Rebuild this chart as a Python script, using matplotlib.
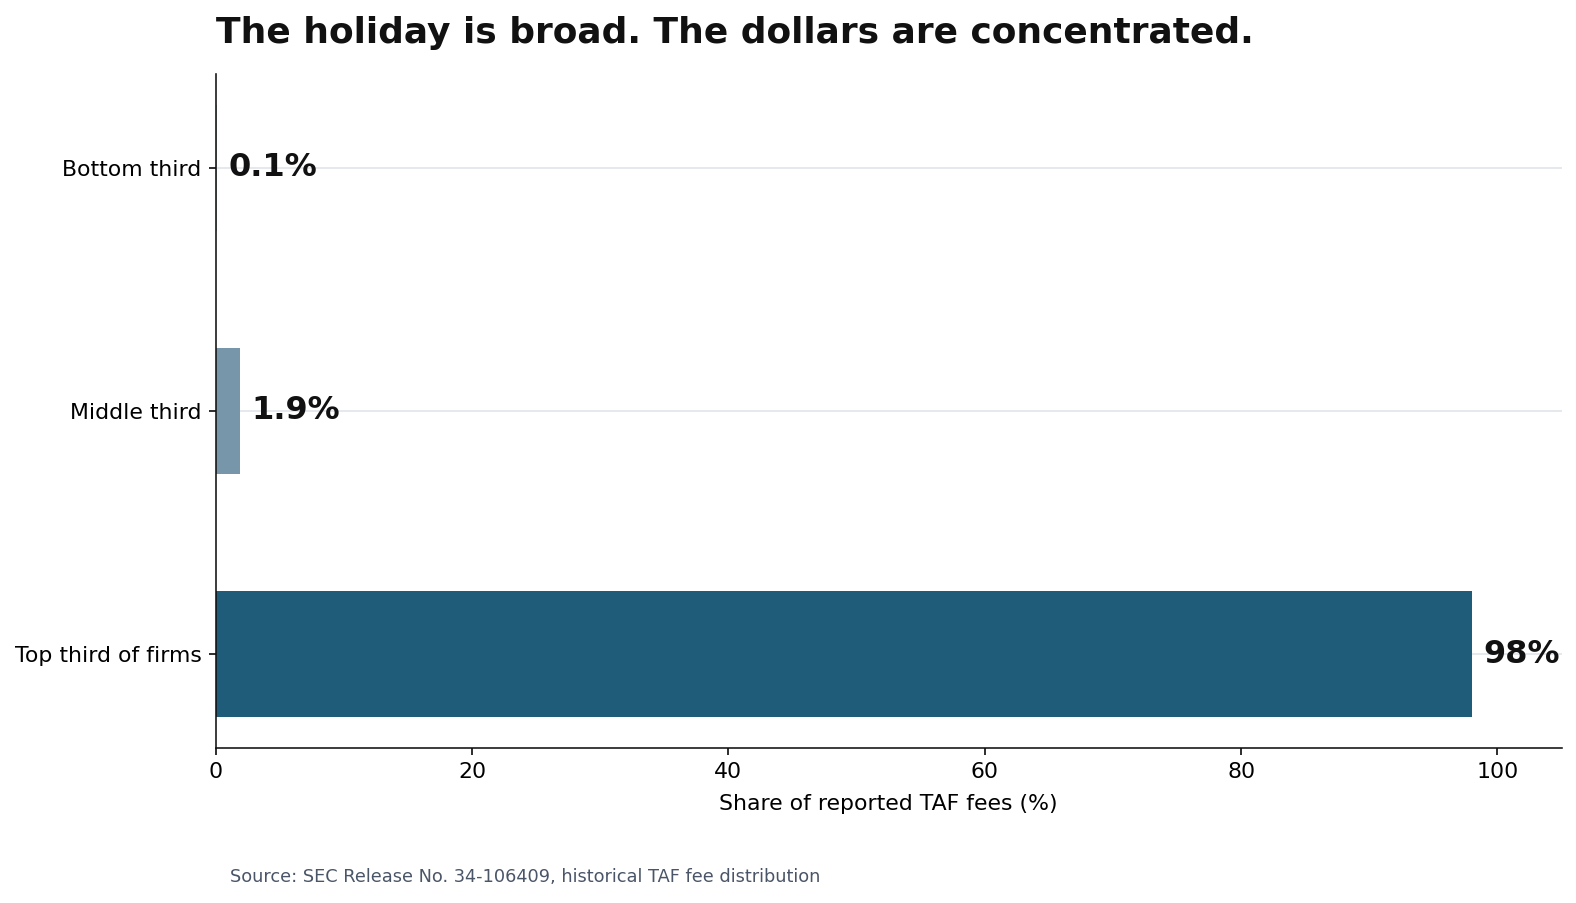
import numpy as np
import matplotlib
matplotlib.use('Agg')
import matplotlib.pyplot as plt


# data
categories = ['Top third of firms', 'Middle third', 'Bottom third']
shares = [98.0, 1.9, 0.1]
value_labels = ['98%', '1.9%', '0.1%']
bar_colors = ['#1f5c7a', '#7896aa', '#c5d1da']

title = 'The holiday is broad. The dollars are concentrated.'
xlabel = 'Share of reported TAF fees (%)'
source = 'Source: SEC Release No. 34-106409, historical TAF fee distribution'

W, H = 1576., 903.
fig = plt.figure(figsize=(W/144., H/144.), dpi=144)
ax = fig.add_axes([215.7/W, 1-748/H, (1561.5-215.7)/W, (748-74)/H])

ypos = np.arange(len(categories))
ax.barh(ypos, shares, height=0.52, color=bar_colors, zorder=2)
for y, v, lab in zip(ypos, shares, value_labels):
    ax.text(v + 0.9, y, lab, va='center', ha='left', fontsize=16,
            fontweight='bold', color='#111111', zorder=3)

ax.set_yticks(ypos)
ax.set_yticklabels(categories, fontsize=11)
ax.set_xlim(0, 105)
ax.tick_params(axis='x', labelsize=11)
ax.set_xlabel(xlabel, fontsize=11, labelpad=6)
ax.grid(axis='y', color='#e5e8ec', linewidth=1.0, zorder=0)
ax.set_axisbelow(True)
for s in ['top', 'right']:
    ax.spines[s].set_visible(False)
for s in ['left', 'bottom']:
    ax.spines[s].set_color('#111111')

fig.text(215.7/W, 1-42.7/H, title, fontsize=18, fontweight='bold',
         color='#111111', ha='left', va='baseline')
fig.text(230/W, 1-882/H, source, fontsize=8.9, color='#4a5568',
         ha='left', va='baseline')

fig.savefig('out.png', dpi=144)
